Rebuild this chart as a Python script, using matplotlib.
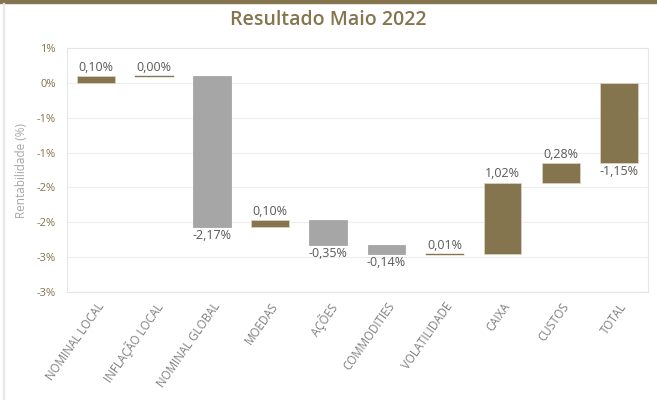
import numpy as np
import matplotlib
matplotlib.use("Agg")
import matplotlib.pyplot as plt
from matplotlib.patches import Rectangle
from matplotlib.ticker import FuncFormatter

# waterfall do resultado de maio 2022

categorias = ["NOMINAL LOCAL", "INFLAÇÃO LOCAL", "NOMINAL GLOBAL", "MOEDAS", "AÇÕES",
              "COMMODITIES", "VOLATILIDADE", "CAIXA", "CUSTOS", "TOTAL"]
valores = [0.10, 0.00, -2.17, 0.10, -0.35, -0.14, 0.01, 1.02, 0.28, -1.15]
y_ticks = [0.5, 0.0, -0.5, -1.0, -1.5, -2.0, -2.5, -3.0]

MARROM = "#85754E"
CINZA = "#A6A6A6"
TEXTO = "#595959"

plt.rcParams['font.family'] = ['Open Sans', 'DejaVu Sans']

fig = plt.figure(figsize=(6.57, 4.0), dpi=100)
ax = fig.add_axes([0.102, 0.27, 0.884, 0.61])

# base de cada barra (acumulado)
bases = []
acum = 0.0
for i, v in enumerate(valores):
    if i == len(valores) - 1:
        bases.append(0.0)
    else:
        bases.append(acum)
        acum += v

x = np.arange(len(categorias))
for i, v in enumerate(valores):
    cor = MARROM if (v >= 0 or i == len(valores) - 1) else CINZA
    base, h = bases[i], v
    ax.bar(x[i], h, bottom=base, width=0.65, color=cor, edgecolor="#D9D2C0" if cor == MARROM else CINZA,
           linewidth=0.6, zorder=3)
    if abs(v) < 0.02:
        ax.plot([x[i] - 0.325, x[i] + 0.325], [base, base], color=MARROM, lw=1.0, zorder=3)
    rotulo = ("%.2f%%" % v).replace(".", ",")
    topo = max(base, base + h)
    fundo = min(base, base + h)
    if v >= 0:
        ax.text(x[i], topo + 0.03, rotulo, ha="center", va="bottom", fontsize=9, color=TEXTO, zorder=4)
    else:
        ax.text(x[i], fundo - 0.03, rotulo, ha="center", va="top", fontsize=9, color=TEXTO, zorder=4)

ax.set_ylim(-3.0, 0.5)
ax.set_xlim(-0.5, len(categorias) - 0.5)
ax.set_yticks(y_ticks)

def fmt(v, pos):
    # arredondamento estilo excel (meio pra longe do zero)
    r = np.sign(v) * np.floor(abs(v) + 0.5)
    return "%d%%" % r if r != 0 else "0%"

ax.yaxis.set_major_formatter(FuncFormatter(fmt))
ax.set_xticks(x)
ax.set_xticklabels(categorias, rotation=55, ha="right", rotation_mode="anchor", fontsize=8.3, color="#7F7F7F")
ax.tick_params(axis="y", labelsize=8, colors=MARROM, length=0, pad=8)
ax.tick_params(axis="x", length=0, pad=6)
ax.grid(axis="y", color="#EDEDED", lw=0.8, zorder=0)
for s in ax.spines.values():
    s.set_color("#E6E6E6")
    s.set_linewidth(0.8)
ax.set_ylabel("Rentabilidade (%)", fontsize=8.5, color="#A6A6A6", labelpad=6)

fig.suptitle("Resultado Maio 2022", x=0.5, y=0.975, fontsize=14, color=MARROM, fontweight="semibold")

# barra marrom no topo e borda
fig.patches.append(Rectangle((0, 0.993), 1, 0.007, transform=fig.transFigure, color=MARROM, zorder=5))
fig.patches.append(Rectangle((0.005, 0.0), 0.0015, 0.993, transform=fig.transFigure, color="#E8E8E8", zorder=5))

fig.savefig("out.png", dpi=100)
